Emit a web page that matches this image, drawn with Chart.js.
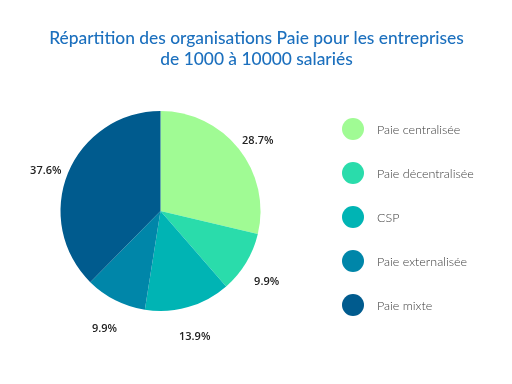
<!DOCTYPE html>
<html>
<head>
<meta charset="utf-8">
<script src="https://cdn.jsdelivr.net/npm/chart.js@4"></script>
<style>
  html, body { margin: 0; padding: 0; background: #fff; }
  #wrap { width: 512px; height: 384px; }
</style>
</head>
<body>
<div id="wrap"><canvas id="c" width="512" height="384"></canvas></div>
<script>
// Values.
const categories = ['Paie centralisée', 'Paie décentralisée', 'CSP', 'Paie externalisée', 'Paie mixte'];
const shares = [28.7, 9.9, 13.9, 9.9, 37.6];
const sliceColors = ['#a0fb94', '#2adcab', '#00b4b4', '#0086a9', '#005b8e'];
const titleLines = ['Répartition des organisations Paie pour les entreprises', 'de 1000 à 10000 salariés'];

// The title spans the whole canvas, wider than the (padded) pie box,
// so it is painted here instead of by the built-in title plugin.
const wideTitle = {
  id: 'wideTitle',
  afterDraw(chart) {
    const { ctx } = chart;
    ctx.save();
    ctx.font = '500 17.4px Lato';
    ctx.fillStyle = '#1c70be';
    ctx.textAlign = 'center';
    ctx.textBaseline = 'middle';
    titleLines.forEach((line, i) => ctx.fillText(line, 256.5, 38 + i * 21));
    ctx.restore();
  },
};

// Percent labels sit just outside each arc, along its mid-angle.
const outsideLabels = {
  id: 'outsideLabels',
  afterDatasetsDraw(chart) {
    const { ctx } = chart;
    const meta = chart.getDatasetMeta(0);
    ctx.save();
    ctx.font = '600 11px "Open Sans"';
    ctx.fillStyle = '#222';
    ctx.textAlign = 'center';
    ctx.textBaseline = 'middle';
    meta.data.forEach((arc, i) => {
      const mid = (arc.startAngle + arc.endAngle) / 2;
      const r = arc.outerRadius + 24;
      ctx.fillText(shares[i].toFixed(1) + '%', arc.x + Math.cos(mid) * r, arc.y + Math.sin(mid) * r + 7);
    });
    ctx.restore();
  },
};

// Vertical legend with round swatches, drawn to the right of the pie.
const sideLegend = {
  id: 'sideLegend',
  afterDraw(chart) {
    const { ctx } = chart;
    const x0 = 353, y0 = 129, step = 44;
    ctx.save();
    ctx.font = '300 12.5px Lato';
    ctx.textBaseline = 'middle';
    categories.forEach((name, i) => {
      const y = y0 + i * step;
      ctx.beginPath();
      ctx.arc(x0, y, 11, 0, Math.PI * 2);
      ctx.fillStyle = sliceColors[i];
      ctx.fill();
      ctx.fillStyle = '#3a3a3a';
      ctx.fillText(name, 377, y + 1);
    });
    ctx.restore();
  },
};

new Chart(document.getElementById('c'), {
  type: 'pie',
  data: {
    labels: categories,
    datasets: [{ data: shares, backgroundColor: sliceColors, borderWidth: 0 }],
  },
  options: {
    responsive: false,
    animation: false,
    layout: { padding: { left: 60, right: 251, top: 111, bottom: 73 } },
    plugins: {
      legend: { display: false },
      tooltip: { enabled: false },
      title: { display: false },
    },
  },
  plugins: [wideTitle, outsideLabels, sideLegend],
});
</script>
</body>
</html>
